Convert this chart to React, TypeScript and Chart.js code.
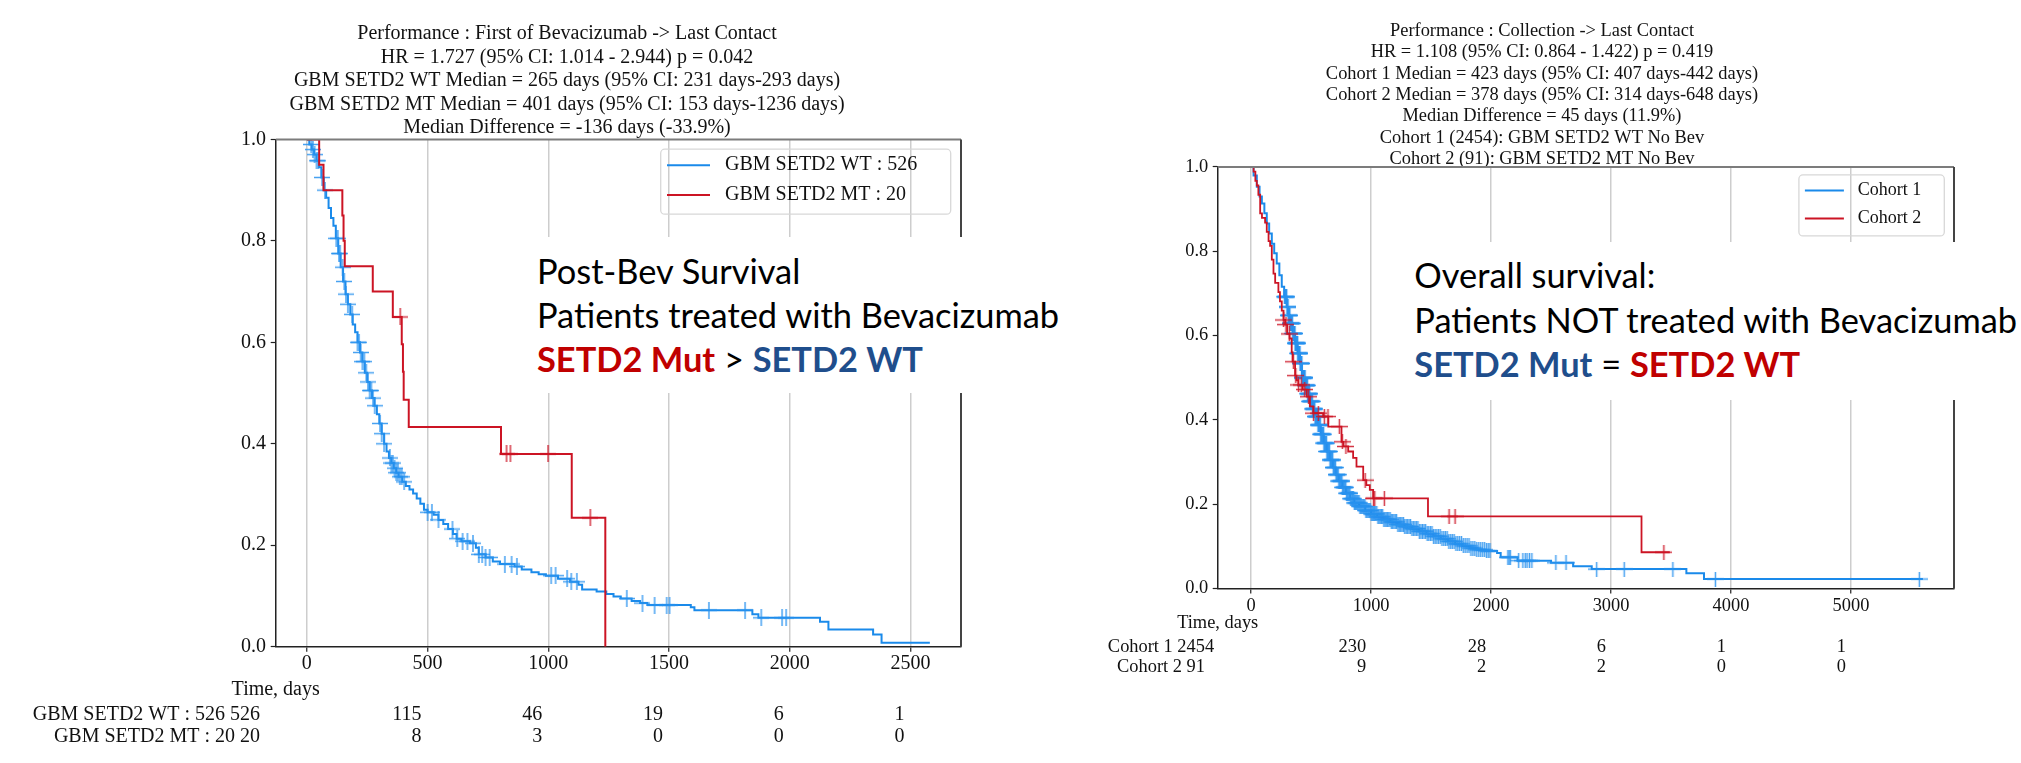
import React, { useEffect, useRef } from "react";
import { Chart, registerables } from "chart.js";

Chart.register(...registerables);

const SERIF = "'Liberation Serif', 'Times New Roman', Times, serif";
const SANS = "Lato, 'Open Sans', sans-serif";

// ================= LEFT PANEL DATA =================
const leftTitle = [
  "Performance : First of Bevacizumab -> Last Contact",
  "HR = 1.727 (95% CI: 1.014 - 2.944) p = 0.042",
  "GBM SETD2 WT Median = 265 days (95% CI: 231 days-293 days)",
  "GBM SETD2 MT Median = 401 days (95% CI: 153 days-1236 days)",
  "Median Difference = -136 days (-33.9%)",
];
const leftSeriesNames = ["GBM SETD2 WT : 526", "GBM SETD2 MT : 20"];
const leftXTicks = [0, 500, 1000, 1500, 2000, 2500];
const leftYTicks = [0, 0.2, 0.4, 0.6, 0.8, 1.0];

const leftWtTimes = [0, 10, 20, 30, 40, 50, 60, 70, 80, 90, 100, 110, 120, 130, 140, 150, 160, 170, 180, 190, 200, 210, 220, 230, 240, 250, 260, 270, 280, 290, 300, 310, 320, 330, 340, 350, 360, 370, 380, 395, 410, 425, 440, 455, 470, 485, 500, 525, 545, 565, 585, 605, 620, 640, 675, 700, 712, 740, 770, 800, 860, 890, 930, 960, 990, 1040, 1090, 1125, 1140, 1200, 1240, 1270, 1300, 1345, 1380, 1410, 1590, 1605, 1845, 1870, 2125, 2160, 2345, 2380, 2580];
const leftWtSurv = [1.0, 0.99, 0.98, 0.97, 0.958, 0.945, 0.925, 0.9, 0.885, 0.865, 0.845, 0.83, 0.805, 0.775, 0.748, 0.72, 0.695, 0.675, 0.655, 0.635, 0.62, 0.6, 0.58, 0.562, 0.54, 0.522, 0.505, 0.49, 0.475, 0.458, 0.44, 0.42, 0.4, 0.385, 0.372, 0.362, 0.352, 0.343, 0.335, 0.325, 0.317, 0.31, 0.302, 0.292, 0.282, 0.27, 0.265, 0.26, 0.25, 0.242, 0.232, 0.222, 0.213, 0.208, 0.204, 0.195, 0.182, 0.176, 0.168, 0.163, 0.158, 0.152, 0.147, 0.143, 0.14, 0.134, 0.128, 0.122, 0.113, 0.109, 0.104, 0.099, 0.095, 0.09, 0.086, 0.082, 0.078, 0.072, 0.064, 0.057, 0.049, 0.034, 0.024, 0.008, 0.008];
const leftWtCensor = [18, 25, 32, 40, 47, 63, 75, 122, 128, 133, 138, 148, 155, 162, 170, 188, 210, 216, 223, 230, 238, 246, 253, 260, 267, 274, 281, 303, 310, 320, 344, 350, 356, 363, 370, 377, 385, 393, 403, 500, 518, 545, 603, 623, 645, 665, 688, 712, 726, 740, 757, 820, 848, 870, 1012, 1030, 1078, 1095, 1118, 1325, 1390, 1440, 1490, 1502, 1665, 1815, 1882, 1968, 1985];

const leftMtTimes = [0, 51, 69, 147, 152, 157, 273, 356, 393, 398, 401, 422, 804, 1097, 1236];
const leftMtSurv = [1.0, 0.95, 0.9, 0.85, 0.8, 0.75, 0.7, 0.65, 0.596, 0.542, 0.487, 0.433, 0.38, 0.254, 0.0];
const leftMtCensor = [387, 827, 843, 999, 1174];

const leftRiskLabels = ["GBM SETD2 WT : 526 526", "GBM SETD2 MT : 20 20"];
const leftRiskTicks = [500, 1000, 1500, 2000, 2500];
const leftRiskWt = [115, 46, 19, 6, 1];
const leftRiskMt = [8, 3, 0, 0, 0];

const leftNote = ["Post-Bev Survival", "Patients treated with Bevacizumab"];

// ================= RIGHT PANEL DATA =================
const rightTitle = [
  "Performance : Collection -> Last Contact",
  "HR = 1.108 (95% CI: 0.864 - 1.422) p = 0.419",
  "Cohort 1 Median = 423 days (95% CI: 407 days-442 days)",
  "Cohort 2 Median = 378 days (95% CI: 314 days-648 days)",
  "Median Difference = 45 days (11.9%)",
  "Cohort 1 (2454): GBM SETD2 WT No Bev",
  "Cohort 2 (91): GBM SETD2 MT No Bev",
];
const rightSeriesNames = ["Cohort 1", "Cohort 2"];
const rightXTicks = [0, 1000, 2000, 3000, 4000, 5000];
const rightYTicks = [0, 0.2, 0.4, 0.6, 0.8, 1.0];

const rightC1Times = [0, 20, 47, 70, 89, 110, 130, 150, 172, 192, 213, 235, 255, 275, 296, 310, 324, 345, 366, 387, 407, 423, 449, 470, 490, 510, 532, 555, 580, 605, 630, 655, 680, 705, 730, 760, 790, 825, 860, 900, 950, 1000, 1050, 1100, 1160, 1220, 1280, 1340, 1400, 1460, 1520, 1580, 1640, 1700, 1760, 1820, 1880, 1950, 2050, 2080, 2220, 2500, 2684, 2839, 3628, 3775, 5600];
const rightC1Surv = [1, 0.98, 0.953, 0.93, 0.913, 0.89, 0.866, 0.842, 0.818, 0.795, 0.771, 0.743, 0.716, 0.692, 0.668, 0.648, 0.629, 0.605, 0.582, 0.558, 0.534, 0.5, 0.482, 0.462, 0.444, 0.426, 0.408, 0.388, 0.366, 0.345, 0.325, 0.305, 0.287, 0.27, 0.255, 0.24, 0.226, 0.213, 0.203, 0.195, 0.185, 0.177, 0.17, 0.164, 0.158, 0.152, 0.147, 0.142, 0.136, 0.13, 0.124, 0.118, 0.112, 0.106, 0.101, 0.096, 0.092, 0.089, 0.084, 0.074, 0.066, 0.061, 0.053, 0.046, 0.036, 0.0225, 0.0225];
const rightC1Censor = [278, 283, 287, 291, 295, 299, 303, 306, 310, 314, 318, 321, 325, 329, 332, 336, 339, 343, 347, 351, 354, 357, 361, 364, 367, 370, 374, 377, 380, 383, 386, 389, 393, 396, 399, 402, 406, 409, 412, 415, 418, 421, 425, 428, 431, 435, 438, 441, 445, 448, 451, 455, 458, 461, 465, 468, 472, 476, 479, 483, 487, 490, 494, 498, 502, 505, 509, 513, 517, 521, 525, 529, 533, 537, 541, 546, 550, 554, 558, 562, 567, 571, 576, 580, 585, 589, 594, 598, 603, 607, 612, 617, 622, 627, 632, 637, 642, 647, 652, 658, 663, 668, 674, 679, 685, 690, 696, 702, 708, 713, 719, 725, 731, 737, 744, 750, 756, 762, 769, 775, 782, 788, 795, 802, 809, 816, 823, 830, 838, 845, 852, 860, 868, 875, 883, 891, 899, 907, 915, 923, 932, 940, 948, 957, 965, 974, 983, 992, 1001, 1010, 1019, 1028, 1038, 1047, 1057, 1066, 1076, 1086, 1096, 1106, 1116, 1126, 1137, 1147, 1158, 1168, 1179, 1190, 1201, 1212, 1223, 1234, 1246, 1257, 1269, 1280, 1292, 1304, 1316, 1328, 1340, 1352, 1365, 1377, 1390, 1402, 1415, 1428, 1441, 1454, 1467, 1480, 1494, 1507, 1521, 1534, 1548, 1562, 1576, 1590, 1605, 1619, 1634, 1648, 1663, 1677, 1692, 1707, 1722, 1737, 1753, 1768, 1784, 1800, 1816, 1832, 1848, 1864, 1880, 1897, 1913, 1930, 1946, 1962, 1976, 1990, 2140, 2150, 2160, 2230, 2265, 2285, 2300, 2320, 2340, 2540, 2625, 2880, 3110, 3515, 3870, 5570];

const rightC2Times = [0, 20, 35, 47, 60, 75, 90, 116, 130, 145, 158, 172, 186, 200, 227, 240, 255, 270, 283, 300, 320, 338, 345, 366, 378, 393, 430, 463, 490, 518, 600, 643, 753, 770, 809, 850, 878, 934, 960, 989, 1017, 1474, 3254, 3490];
const rightC2Surv = [1, 0.989, 0.967, 0.956, 0.934, 0.89, 0.879, 0.868, 0.846, 0.824, 0.813, 0.78, 0.747, 0.725, 0.703, 0.681, 0.659, 0.637, 0.626, 0.604, 0.593, 0.56, 0.538, 0.505, 0.494, 0.483, 0.472, 0.455, 0.432, 0.416, 0.408, 0.384, 0.348, 0.337, 0.325, 0.31, 0.289, 0.257, 0.245, 0.234, 0.214, 0.171, 0.086, 0.086];
const rightC2Censor = [270, 290, 318, 352, 372, 395, 418, 446, 478, 520, 560, 610, 640, 735, 760, 790, 950, 1020, 1030, 1110, 1650, 1700, 3440];

const rightRiskLabels = ["Cohort 1 2454", "Cohort 2 91"];
const rightRiskTicks = [1000, 2000, 3000, 4000, 5000];
const rightRiskC1 = [230, 28, 6, 1, 1];
const rightRiskC2 = [9, 2, 2, 0, 0];

const rightNote = ["Overall survival:", "Patients NOT treated with Bevacizumab"];

// ================= STYLES =================
const BLUE = "#1a8aea";
const RED = "#cc1424";
const BLUE_CENSOR = "rgba(40,146,238,0.85)";
const RED_CENSOR = "rgba(204,20,36,0.85)";
const NOTE_RED = "#c00000";
const NOTE_BLUE = "#1f4e8c";
const INK = "#111111";

function survAt(times: number[], surv: number[], t: number) {
  let v = surv[0];
  for (let i = 0; i < times.length; i++) {
    if (times[i] <= t) v = surv[i];
    else break;
  }
  return v;
}

function makeCross(w: number, h: number, color: string, lw: number) {
  const c = document.createElement("canvas");
  c.width = w;
  c.height = h;
  const g = c.getContext("2d")!;
  g.strokeStyle = color;
  g.lineWidth = lw;
  g.beginPath();
  g.moveTo(w / 2, 0);
  g.lineTo(w / 2, h);
  g.moveTo(0, h / 2);
  g.lineTo(w, h / 2);
  g.stroke();
  return c;
}

type Series = {
  name: string;
  times: number[];
  surv: number[];
  censor: number[];
  color: string;
  censorColor: string;
  lineWidth: number;
};

type PanelSpec = {
  canvasLeft: number;
  canvasWidth: number;
  title: string[];
  titleSize: number;
  titleLine: number;
  titlePadTop: number;
  titlePadBottom: number;
  padLeft: number;
  padRight: number;
  yAxisWidth: number;
  xAxisHeight: number;
  xMin: number;
  xMax: number;
  xTicks: number[];
  yTicks: number[];
  fontSize: number;
  yTickPad: number;
  xTickPad: number;
  series: Series[];
  cross: { w: number; h: number; lw: number };
  legend: { insetRight: number; insetTop: number; w: number; h: number; lineX0: number; lineX1: number; textX: number; rowY: number[]; font: number };
  risk: { timeY: number; rowY: number[]; labels: string[]; labelAlign: CanvasTextAlign; labelDx: number; ticks: number[]; counts: number[][]; countDx: number };
};

function extrasPlugin(spec: PanelSpec) {
  return {
    id: "kmExtras",
    afterDraw(chart: any) {
      const ctx: CanvasRenderingContext2D = chart.ctx;
      const a = chart.chartArea;
      const xs = chart.scales.x;
      ctx.save();
      // top / right spines
      ctx.lineWidth = 2;
      ctx.strokeStyle = "#7c7c7c";
      ctx.beginPath();
      ctx.moveTo(a.left, a.top);
      ctx.lineTo(a.right, a.top);
      ctx.stroke();
      ctx.strokeStyle = "#444444";
      ctx.beginPath();
      ctx.moveTo(a.right, a.top);
      ctx.lineTo(a.right, a.bottom);
      ctx.stroke();

      // legend
      const L = spec.legend;
      const bx = a.right - L.insetRight - L.w;
      const by = a.top + L.insetTop;
      ctx.strokeStyle = "#d8d8d8";
      ctx.lineWidth = 1.3;
      ctx.beginPath();
      (ctx as any).roundRect(bx, by, L.w, L.h, 4);
      ctx.stroke();
      ctx.font = `${L.font}px ${SERIF}`;
      ctx.textBaseline = "middle";
      ctx.textAlign = "left";
      spec.series.forEach((s, i) => {
        ctx.strokeStyle = s.color;
        ctx.lineWidth = 2;
        ctx.beginPath();
        ctx.moveTo(bx + L.lineX0, by + L.rowY[i]);
        ctx.lineTo(bx + L.lineX1, by + L.rowY[i]);
        ctx.stroke();
        ctx.fillStyle = INK;
        ctx.fillText(s.name, bx + L.textX, by + L.rowY[i]);
      });

      // at-risk table
      const R = spec.risk;
      ctx.font = `${spec.fontSize}px ${SERIF}`;
      ctx.fillStyle = INK;
      ctx.textAlign = "center";
      ctx.fillText("Time, days", a.left, R.timeY);
      R.labels.forEach((lab, i) => {
        ctx.textAlign = R.labelAlign;
        ctx.fillText(lab, a.left + R.labelDx, R.rowY[i]);
        ctx.textAlign = "right";
        R.ticks.forEach((t, j) => {
          ctx.fillText(String(R.counts[i][j]), xs.getPixelForValue(t) + R.countDx, R.rowY[i]);
        });
      });
      ctx.restore();
    },
  };
}

function KMPanel({ spec }: { spec: PanelSpec }) {
  const ref = useRef<HTMLCanvasElement>(null);
  useEffect(() => {
    const canvas = ref.current!;
    const datasets: any[] = [];
    spec.series
      .slice()
      .reverse()
      .forEach((s) => {
        datasets.push({
          label: s.name + " censored",
          data: s.censor.map((t) => ({ x: t, y: survAt(s.times, s.surv, t) })),
          showLine: false,
          pointStyle: makeCross(spec.cross.w, spec.cross.h, s.censorColor, spec.cross.lw),
          pointRadius: 5,
          pointHoverRadius: 5,
          borderWidth: 0,
        });
        datasets.push({
          label: s.name,
          data: s.times.map((t, i) => ({ x: t, y: s.surv[i] })),
          stepped: true,
          borderColor: s.color,
          borderWidth: s.lineWidth,
          pointRadius: 0,
          fill: false,
        });
      });

    const tickFont = { family: SERIF, size: spec.fontSize };
    const chart = new Chart(canvas, {
      type: "line",
      data: { datasets },
      options: {
        responsive: false,
        maintainAspectRatio: false,
        animation: false,
        events: [],
        layout: { padding: { left: spec.padLeft, right: spec.padRight, top: 0, bottom: 0 } },
        plugins: {
          legend: { display: false },
          tooltip: { enabled: false },
          title: {
            display: true,
            text: spec.title,
            color: INK,
            font: { family: SERIF, size: spec.titleSize, weight: "normal", lineHeight: spec.titleLine / spec.titleSize },
            padding: { top: spec.titlePadTop, bottom: spec.titlePadBottom },
          },
        },
        scales: {
          x: {
            type: "linear",
            min: spec.xMin,
            max: spec.xMax,
            afterBuildTicks: (s: any) => {
              s.ticks = spec.xTicks.map((v) => ({ value: v }));
            },
            afterFit: (s: any) => {
              s.height = spec.xAxisHeight;
            },
            ticks: {
              font: tickFont,
              color: INK,
              padding: spec.xTickPad,
              maxRotation: 0,
              autoSkip: false,
              callback: (v: any) => String(v),
            },
            grid: { color: "#cdcdcd", lineWidth: 1.5, drawTicks: true, tickLength: 5, tickColor: "#222", tickWidth: 1.2 },
            border: { display: true, color: "#222", width: 1.5 },
          },
          y: {
            type: "linear",
            min: 0,
            max: 1,
            afterBuildTicks: (s: any) => {
              s.ticks = spec.yTicks.map((v) => ({ value: v }));
            },
            afterFit: (s: any) => {
              s.width = spec.yAxisWidth;
            },
            ticks: {
              font: tickFont,
              color: INK,
              padding: spec.yTickPad,
              autoSkip: false,
              callback: (v: any) => Number(v).toFixed(1),
            },
            grid: { drawOnChartArea: false, drawTicks: true, tickLength: 5, tickColor: "#222", tickWidth: 1.2 },
            border: { display: true, color: "#222", width: 1.5 },
          },
        },
      } as any,
      plugins: [extrasPlugin(spec)],
    });
    return () => chart.destroy();
  }, [spec]);
  return (
    <canvas
      ref={ref}
      width={spec.canvasWidth}
      height={763}
      style={{ position: "absolute", left: spec.canvasLeft, top: 0, width: spec.canvasWidth, height: 763 }}
    />
  );
}

const leftSpec: PanelSpec = {
  canvasLeft: 0,
  canvasWidth: 1010,
  title: leftTitle,
  titleSize: 20,
  titleLine: 23.4,
  titlePadTop: 22.4,
  titlePadBottom: 0,
  padLeft: 173,
  padRight: 49,
  yAxisWidth: 102.7,
  xAxisHeight: 116.3,
  xMin: -129,
  xMax: 2709,
  xTicks: leftXTicks,
  yTicks: leftYTicks,
  fontSize: 20,
  yTickPad: 4.7,
  xTickPad: 0,
  series: [
    { name: leftSeriesNames[0], times: leftWtTimes, surv: leftWtSurv, censor: leftWtCensor, color: BLUE, censorColor: BLUE_CENSOR, lineWidth: 2 },
    { name: leftSeriesNames[1], times: leftMtTimes, surv: leftMtSurv, censor: leftMtCensor, color: RED, censorColor: RED_CENSOR, lineWidth: 2 },
  ],
  cross: { w: 16, h: 17, lw: 1.5 },
  legend: { insetRight: 10.3, insetTop: 9.8, w: 290, h: 65, lineX0: 6.3, lineX1: 49.3, textX: 64.3, rowY: [16, 45.7], font: 20 },
  risk: {
    timeY: 690,
    rowY: [714.5, 737],
    labels: leftRiskLabels,
    labelAlign: "right",
    labelDx: -15.7,
    ticks: leftRiskTicks,
    counts: [leftRiskWt, leftRiskMt],
    countDx: -6,
  },
};

const rightSpec: PanelSpec = {
  canvasLeft: 1010,
  canvasWidth: 1011,
  title: rightTitle,
  titleSize: 18.4,
  titleLine: 21.45,
  titlePadTop: 20.1,
  titlePadBottom: -3.3,
  padLeft: 120,
  padRight: 67,
  yAxisWidth: 87.7,
  xAxisHeight: 174.5,
  xMin: -279,
  xMax: 5859,
  xTicks: rightXTicks,
  yTicks: rightYTicks,
  fontSize: 18.4,
  yTickPad: 4.4,
  xTickPad: 1.5,
  series: [
    { name: rightSeriesNames[0], times: rightC1Times, surv: rightC1Surv, censor: rightC1Censor, color: BLUE, censorColor: BLUE_CENSOR, lineWidth: 2 },
    { name: rightSeriesNames[1], times: rightC2Times, surv: rightC2Surv, censor: rightC2Censor, color: RED, censorColor: RED_CENSOR, lineWidth: 1.8 },
  ],
  cross: { w: 17, h: 15, lw: 1.5 },
  legend: { insetRight: 9.7, insetTop: 8, w: 145.4, h: 61, lineX0: 6, lineX1: 45, textX: 58.8, rowY: [15.5, 43.5], font: 18 },
  risk: {
    timeY: 623.5,
    rowY: [647, 667],
    labels: rightRiskLabels,
    labelAlign: "center",
    labelDx: -56.7,
    ticks: rightRiskTicks,
    counts: [rightRiskC1, rightRiskC2],
    countDx: -5,
  },
};

const noteStyle: React.CSSProperties = {
  position: "absolute",
  background: "#ffffff",
  boxSizing: "border-box",
  fontFamily: SANS,
  fontSize: 34.4,
  color: "#000",
  whiteSpace: "nowrap",
};

export default function App() {
  return (
    <div style={{ position: "absolute", left: 0, top: 0, width: 2021, height: 763, background: "#fff", overflow: "hidden" }}>
      <KMPanel spec={leftSpec} />
      <KMPanel spec={rightSpec} />
      <div style={{ ...noteStyle, left: 530, top: 237, width: 545, height: 156, padding: "12.3px 0 0 7px", lineHeight: "44px" }}>
        <div>{leftNote[0]}</div>
        <div>{leftNote[1]}</div>
        <div>
          <span style={{ color: NOTE_RED, fontWeight: 700 }}>SETD2 Mut</span> &gt;{" "}
          <span style={{ color: NOTE_BLUE, fontWeight: 700 }}>SETD2 WT</span>
        </div>
      </div>
      <div style={{ ...noteStyle, left: 1405, top: 242, width: 616, height: 158, padding: "11.2px 0 0 9.3px", lineHeight: "44.6px" }}>
        <div>{rightNote[0]}</div>
        <div>{rightNote[1]}</div>
        <div>
          <span style={{ color: NOTE_BLUE, fontWeight: 700 }}>SETD2 Mut</span> ={" "}
          <span style={{ color: NOTE_RED, fontWeight: 700 }}>SETD2 WT</span>
        </div>
      </div>
    </div>
  );
}
